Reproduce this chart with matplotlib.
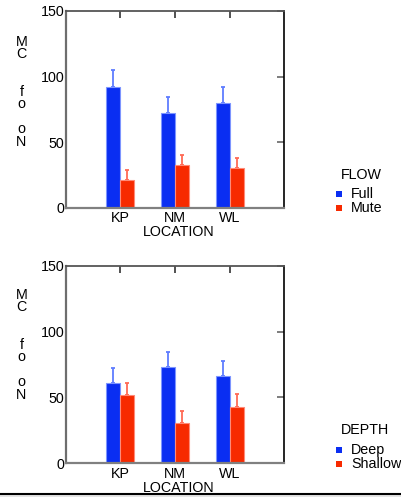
import matplotlib
matplotlib.use("Agg")
import numpy as np
import matplotlib.pyplot as plt
from matplotlib.patches import Rectangle
from matplotlib.lines import Line2D

plt.rcParams['font.family'] = ['Liberation Sans', 'DejaVu Sans']

locations = ['KP', 'NM', 'WL']

flow_labels = ['Full', 'Mute']
flow_means = [[92.3, 72.2, 79.6], [21.1, 32.6, 30.3]]
flow_upper = [[105.3, 84.7, 91.8], [28.5, 40.0, 37.7]]

depth_labels = ['Deep', 'Shallow']
depth_means = [[61.2, 73.1, 66.5], [51.9, 30.8, 43.0]]
depth_upper = [[72.1, 84.5, 77.4], [61.2, 39.5, 52.4]]

y_ticks = [0, 50, 100, 150]
# the y label is printed one letter per line
ylabel_text = 'M\nC\n\n\nf\no\n\no\nN'

bar_colors = ['#0a2ef2', '#f72a00']
edge_colors = ['#7d95ff', '#ff8a78']
err_colors = ['#5f7dff', '#ff6a55']

FS = 10.3
W, H = 402, 497
fig = plt.figure(figsize=(W / 100, H / 100), dpi=100)


def px_x(x):
    return x / W


def px_y(y):
    return 1 - y / H


def draw_panel(top, bottom, means, upper, labels, title, label_top, legend_ys):
    ax = fig.add_axes([px_x(66), px_y(bottom), px_x(284) - px_x(66),
                       px_y(top) - px_y(bottom)])
    x = np.arange(len(locations))
    width = 0.255
    for i, (m, u) in enumerate(zip(means, upper)):
        pos = x + (i - 0.5) * width
        ax.bar(pos, m, width, color=bar_colors[i], edgecolor=edge_colors[i],
               linewidth=0.8, zorder=2)
        m = np.array(m)
        err = np.array(u) - m
        _, caps, _ = ax.errorbar(pos, m, yerr=[np.zeros_like(err), err],
                                 fmt='none', ecolor=err_colors[i],
                                 elinewidth=1.3, capsize=1.6, capthick=1.3,
                                 zorder=1)
        for c in caps:
            c.set_color(bar_colors[i])

    ax.set_xlim(-0.98, 2.98)
    ax.set_ylim(0, 150)
    ax.set_xticks(x)
    ax.set_xticklabels(locations, fontsize=FS)
    ax.set_yticks(y_ticks)
    ax.set_yticklabels([str(t) for t in y_ticks], fontsize=FS)
    ax.tick_params(axis='x', bottom=False, top=True, direction='in',
                   length=5, width=1.2, color='#333333', pad=2.5)
    ax.tick_params(axis='y', left=False, right=True, direction='in',
                   length=5, width=1.2, color='#666666', pad=1)
    ax.set_xlabel('LOCATION', fontsize=FS)
    ax.xaxis.set_label_coords((178.7 - 66) / 218, -0.09)

    ax.spines['left'].set_color('#6e6e6e')
    ax.spines['left'].set_linewidth(1.6)
    ax.spines['bottom'].set_color('#808080')
    ax.spines['bottom'].set_linewidth(1.6)
    ax.spines['top'].set_color('#555555')
    ax.spines['top'].set_linewidth(1.3)
    ax.spines['right'].set_color('black')
    ax.spines['right'].set_linewidth(1.2)

    fig.text(px_x(21.5), px_y(label_top), ylabel_text, fontsize=FS,
             ha='center', va='top', multialignment='center',
             linespacing=0.86)

    # legend drawn by hand
    fig.text(px_x(341), px_y(legend_ys[0]), title, fontsize=FS,
             ha='left', va='center')
    for i, lab in enumerate(labels):
        yc = legend_ys[i + 1]
        fig.patches.append(Rectangle((px_x(336.5), px_y(yc + 3)),
                                     6 / W, 6 / H, transform=fig.transFigure,
                                     facecolor=bar_colors[i],
                                     edgecolor='none', figure=fig))
        fig.text(px_x(351), px_y(yc), lab, fontsize=FS, ha='left',
                 va='center')
    return ax


draw_panel(11, 207.7, flow_means, flow_upper, flow_labels, 'FLOW',
           35, [175, 194, 208])
draw_panel(265.7, 463.3, depth_means, depth_upper, depth_labels, 'DEPTH',
           288, [430.5, 450, 464])

# strip along the bottom edge
fig.patches.append(Rectangle((0, 0), 1, px_y(494.5), transform=fig.transFigure,
                             facecolor='#e4e4e4', edgecolor='none',
                             figure=fig, zorder=5))
fig.add_artist(Line2D([0, 1], [px_y(493.5), px_y(493.5)], color='black',
                      linewidth=1.5, zorder=6))

fig.savefig('out.png', dpi=100)
